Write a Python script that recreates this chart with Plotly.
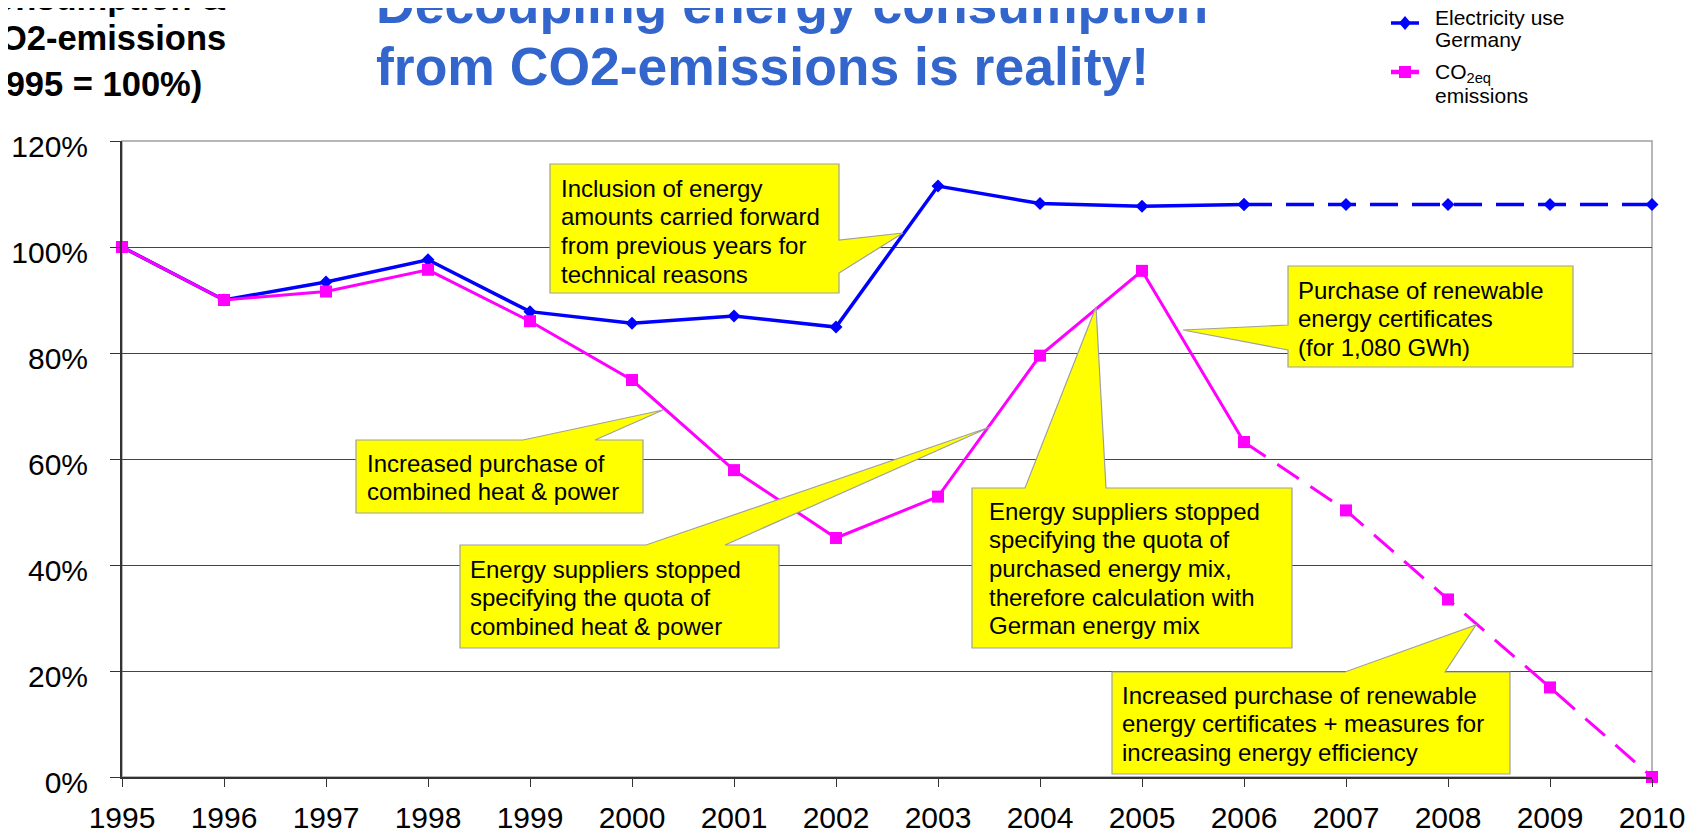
import plotly.graph_objects as go

years = [1995, 1996, 1997, 1998, 1999, 2000, 2001, 2002,
         2003, 2004, 2005, 2006, 2007, 2008, 2009, 2010]

electricity = [100.0, 90.0, 93.4, 97.6, 87.8, 85.6, 87.0, 84.9,
               111.5, 108.2, 107.7, 108.0, 108.0, 108.0, 108.0, 108.0]

co2 = [100.0, 90.0, 91.6, 95.7, 86.0, 74.9, 57.9, 45.1,
       52.9, 79.5, 95.5, 63.2, 50.3, 33.5, 16.9, 0.0]

# last measured year, after that the lines are dashed
split = years.index(2006)

y_ticks = [0, 20, 40, 60, 80, 100, 120]
y_labels = ["0%", "20%", "40%", "60%", "80%", "100%", "120%"]

FONT = "Liberation Sans, Arial, sans-serif"
BLUE = "#0000FF"
MAGENTA = "#FF00FF"
TITLE_BLUE = "#3366CC"

# plot area in page pixels (the page body adds an 8px margin)
OFF = 8
L, R, T, B = 122, 1652, 141, 777
W, H = 1702, 835


def px_x(px):
    return 1995 + (px - L) / (R - L) * 15


def px_y(py):
    return (B - py) / (B - T) * 120


def paper_x(px):
    return (px - L) / (R - L)


def paper_y(py):
    return (B - py) / (B - T)


fig = go.Figure()

fig.add_trace(
    go.Scatter(
        x=years[:split + 1],
        y=electricity[:split + 1],
        mode="lines+markers",
        line=dict(color=BLUE, width=3.5),
        marker=dict(symbol="diamond", size=10, color=BLUE),
        cliponaxis=False,
        showlegend=False
    )
)

fig.add_trace(
    go.Scatter(
        x=years[split:],
        y=electricity[split:],
        mode="lines+markers",
        line=dict(color=BLUE, width=3.5, dash="28px,14px"),
        marker=dict(symbol="diamond", size=10, color=BLUE),
        cliponaxis=False,
        showlegend=False
    )
)

fig.add_trace(
    go.Scatter(
        x=years[:split + 1],
        y=co2[:split + 1],
        mode="lines+markers",
        line=dict(color=MAGENTA, width=3),
        marker=dict(symbol="square", size=12, color=MAGENTA),
        cliponaxis=False,
        showlegend=False
    )
)

fig.add_trace(
    go.Scatter(
        x=years[split:],
        y=co2[split:],
        mode="lines+markers",
        line=dict(color=MAGENTA, width=3, dash="26px,14px"),
        marker=dict(symbol="square", size=12, color=MAGENTA),
        cliponaxis=False,
        showlegend=False
    )
)

# callouts: outline in pixels, text lines, text left, first line centre
callouts = [
    dict(
        pts=[(550, 164), (839, 164), (839, 240), (903, 233),
             (839, 273), (839, 293), (550, 293)],
        lines=["Inclusion of energy", "amounts carried forward",
               "from previous years for", "technical reasons"],
        left=559, top=188
    ),
    dict(
        pts=[(356, 440), (523, 440), (663, 410), (595, 440),
             (643, 440), (643, 513), (356, 513)],
        lines=["Increased purchase of", "combined heat & power"],
        left=365, top=463
    ),
    dict(
        pts=[(460, 545), (646, 545), (990, 427), (725, 545),
             (779, 545), (779, 648), (460, 648)],
        lines=["Energy suppliers stopped", "specifying the quota of",
               "combined heat & power"],
        left=468, top=569
    ),
    dict(
        pts=[(972, 488), (1025, 488), (1096, 307), (1106, 488),
             (1292, 488), (1292, 648), (972, 648)],
        lines=["Energy suppliers stopped", "specifying the quota of",
               "purchased energy mix,", "therefore calculation with",
               "German energy mix"],
        left=987, top=511
    ),
    dict(
        pts=[(1288, 266), (1573, 266), (1573, 367), (1288, 367),
             (1288, 350), (1183, 330), (1288, 325)],
        lines=["Purchase of renewable", "energy certificates",
               "(for 1,080 GWh)"],
        left=1296, top=290
    ),
    dict(
        pts=[(1112, 672), (1345, 672), (1476, 625), (1445, 672),
             (1510, 672), (1510, 774), (1112, 774)],
        lines=["Increased purchase of renewable",
               "energy certificates + measures for",
               "increasing energy efficiency"],
        left=1120, top=695
    ),
]

shapes = [
    dict(
        type="rect", xref="paper", yref="paper",
        x0=0, x1=1, y0=0, y1=1,
        line=dict(color="#A0A0A0", width=1.5),
        layer="below"
    )
]

annotations = []

for c in callouts:
    path = "M " + " L ".join(
        f"{px_x(x):.4f},{px_y(y):.3f}" for x, y in c["pts"]
    ) + " Z"
    shapes.append(
        dict(
            type="path", xref="x", yref="y", path=path,
            fillcolor="#FFFF00",
            line=dict(color="#A0A0A0", width=1.2),
            layer="above"
        )
    )
    for i, text in enumerate(c["lines"]):
        annotations.append(
            dict(
                text=text, xref="paper", yref="paper",
                x=paper_x(c["left"]), y=paper_y(c["top"] + i * 28.7),
                xanchor="left", yanchor="middle", showarrow=False,
                font=dict(family=FONT, size=24, color="black")
            )
        )

# titles
title_lines = ["Decoupling energy consumption",
               "from CO2-emissions is reality!"]
for i, text in enumerate(title_lines):
    annotations.append(
        dict(
            text=f"<b>{text}</b>", xref="paper", yref="paper",
            x=paper_x(374), y=paper_y(4 + i * 62.5),
            xanchor="left", yanchor="middle", showarrow=False,
            font=dict(family=FONT, size=53.5, color=TITLE_BLUE)
        )
    )

side_lines = ["consumption &", "CO2-emissions", "(1995 = 100%)"]
side_y = [-2, 38, 84]
for text, ty in zip(side_lines, side_y):
    annotations.append(
        dict(
            text=f"<b>{text}</b>", xref="paper", yref="paper",
            x=paper_x(-27), y=paper_y(ty),
            xanchor="left", yanchor="middle", showarrow=False,
            font=dict(family=FONT, size=34.5, color="black")
        )
    )

# legend drawn by hand
legend_items = [
    dict(color=BLUE, y=23, width=3.5, marker="diamond",
         lines=["Electricity use", "Germany"], text_y=[17, 39.5]),
    dict(color=MAGENTA, y=72, width=4.5, marker="square",
         lines=["CO<sub>2eq</sub>", "emissions"], text_y=[73, 95.5]),
]
for item in legend_items:
    yy = item["y"]
    shapes.append(
        dict(
            type="line", xref="paper", yref="paper",
            x0=paper_x(1391), x1=paper_x(1419),
            y0=paper_y(yy), y1=paper_y(yy),
            line=dict(color=item["color"], width=item["width"])
        )
    )
    cx = 1405
    if item["marker"] == "diamond":
        pts = [(cx - 6, yy), (cx, yy - 7), (cx + 6, yy), (cx, yy + 7)]
    else:
        pts = [(cx - 6, yy - 6), (cx + 6, yy - 6),
               (cx + 6, yy + 6), (cx - 6, yy + 6)]
    shapes.append(
        dict(
            type="path", xref="paper", yref="paper",
            path="M " + " L ".join(
                f"{paper_x(x):.5f},{paper_y(y):.5f}" for x, y in pts
            ) + " Z",
            fillcolor=item["color"], line=dict(width=0)
        )
    )
    for text, ty in zip(item["lines"], item["text_y"]):
        annotations.append(
            dict(
                text=text, xref="paper", yref="paper",
                x=paper_x(1433), y=paper_y(ty),
                xanchor="left", yanchor="middle", showarrow=False,
                font=dict(family=FONT, size=21, color="black")
            )
        )

fig.update_layout(
    width=W,
    height=H,
    margin=dict(
        l=L - OFF, r=W - (R - OFF), t=T - OFF, b=H - (B - OFF),
        autoexpand=False
    ),
    paper_bgcolor="white",
    plot_bgcolor="white",
    font=dict(family=FONT, size=30, color="black"),
    showlegend=False,
    shapes=shapes,
    annotations=annotations,
    xaxis=dict(
        range=[1995, 2010],
        tickvals=years,
        ticks="outside",
        ticklen=8,
        tickcolor="#333333",
        ticklabelstandoff=5,
        showgrid=False,
        showline=True,
        linecolor="#333333",
        linewidth=2,
        zeroline=False,
        automargin=False,
        tickfont=dict(size=30)
    ),
    yaxis=dict(
        range=[0, 120],
        tickvals=y_ticks,
        ticktext=y_labels,
        ticks="outside",
        ticklen=10,
        tickcolor="#333333",
        ticklabelstandoff=16,
        ticklabelshift=5,
        showgrid=True,
        gridcolor="#444444",
        gridwidth=1.3,
        showline=True,
        linecolor="#333333",
        linewidth=2,
        zeroline=False,
        automargin=False,
        tickfont=dict(size=30)
    )
)

fig.write_html("out.html")
